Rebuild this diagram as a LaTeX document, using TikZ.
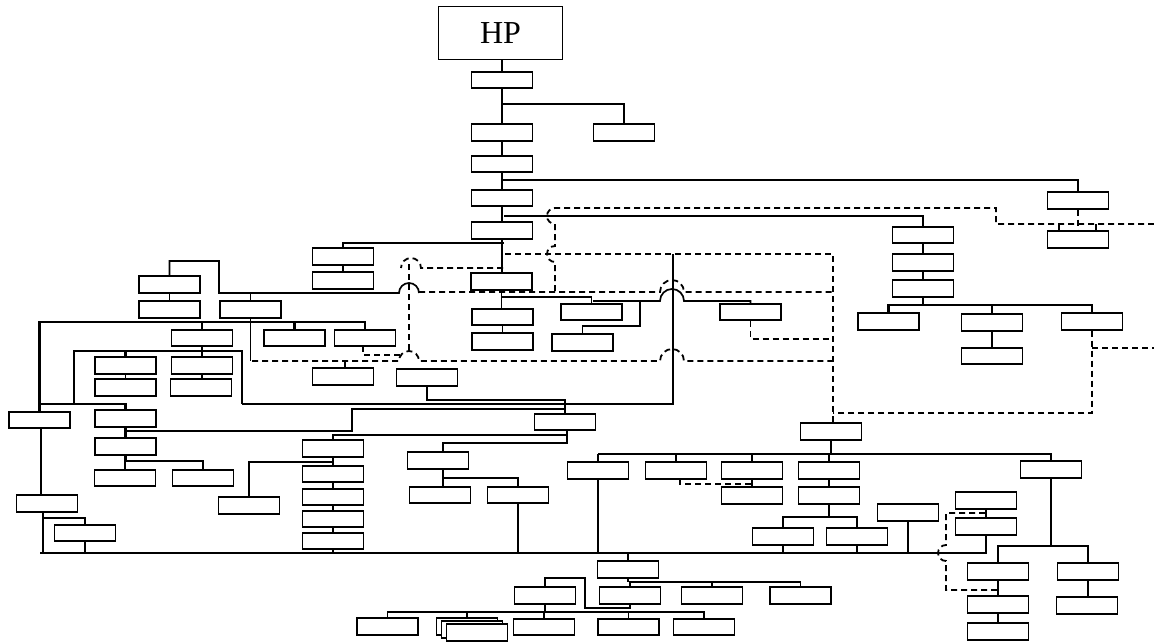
\documentclass[tikz,border=0pt]{standalone}
\usepackage{fontspec}
\setmainfont{Liberation Serif}
\usetikzlibrary{positioning}

\begin{document}
\begin{tikzpicture}[x=0.5pt,y=-0.5pt,
    bx/.style={rectangle,draw,fill=white,line width=0.95pt,minimum width=30.5pt,minimum height=8.2pt,inner sep=0pt},
    ln/.style={line width=0.85pt},
    tk/.style={line width=1.4pt},
    tn/.style={line width=0.55pt},
    dsh/.style={line width=0.9pt,dash pattern=on 3pt off 2pt}]
    \useasboundingbox (0,0) rectangle (1154,642);

    \node[draw,line width=0.95pt,minimum width=62pt,minimum height=26.5pt,font=\fontsize{16}{18}\selectfont] (hp) at (500.5,33) {HP};

    % boxes
    \foreach \n/\x/\y in {b1/502/80,b2/502/132.5,b2r/624/132.5,b3/502/164,b4/502/198,b5/502/230.5,
        r1/1078/200.5,r2/1078/239.5,g1/923/235,g2/923/262.5,g3/923/288.5,g4/888.5/321.5,g5/992/322.5,g6/1092/321.5,g7/992/356,
        m1/343/256.5,m2/343/280.5,c1/501.5/281.5,c2/502.5/317,c3/502.5/341.5,c4/591.5/312,c5/582.5/342.5,c6/750.5/312,
        l1/169.5/284.5,l2/169.5/309.5,l3/250.5/309.5,l4/202/338,l5/294.5/338,l6/365/338,
        l7/125.5/365.5,l8/125.5/387.5,l9/202/365.5,l10/201/387.5,l11/343/376.5,l12/427/377.5,
        l13/39.5/420,l14/125.5/418.5,l17/125.5/446.5,l18/125/478,l19/203/478,l15/47/503.5,l16/85/533,l20/249/505.5,
        k1/333/448.5,k2/333/474,k3/333/497,k4/333/519,k5/333/541,
        ba/565/422,n1/438/460.5,n2/440/495,n3/518/495,
        bb/831/431.5,p1/598/470.5,p2/676/470.5,p3/752/470.5,p4/829/470.5,p5/1051/469.5,
        p3b/752/495.5,p4b/829/495.5,p4c/783/536.5,p4d/857/536.5,
        q1/908/512.5,q2/986/500.5,q3/986/526.5,
        rr1/998/571.5,rr2/1088/571.5,rr3/998/604.5,rr4/1087/605.5,rr5/998/631.5,
        s1/628/569.5,s2/545/595.5,s3/630/595.5,s4/712/595.5,s5/800.5/595.5,
        t1/387.5/626.5,t2a/467/626.5,t2b/472/629.5,t2c/477/632.5,t3/544/627,t4/628.5/627,t5/704/627}{
        \node[bx] (\n) at (\x,\y) {};
    }

    % stacked pairs
    \draw[ln] (b1.north) -- (b1.north |- hp.south);
    \foreach \a/\b in {b1/b2,b2/b3,b3/b4,b4/b5,m1/m2,c1/c2,c2/c3,l1/l2,l7/l8,l9/l10,k1/k2,k2/k3,k3/k4,k4/k5,
        p3/p3b,p4/p4b,q2/q3,rr1/rr3,rr3/rr5,g5/g7,l4/l9}{
        \draw[ln] (\a.south) -- (\a.south |- \b.north);}
    \foreach \a/\b in {g1/g2,g2/g3,l14/l17,rr2/rr4,b5/c1}{
        \draw[tk] (\a.south) -- (\a.south |- \b.north);}

    % top branches
    \draw[tk] (502,104) -| (b2r.north);
    \draw[ln] (502,180) -| (r1.north);
    \draw[ln] (504,216) -| (g1.north);
    \draw[ln] (504,243) -| (m1.north);
    \draw[tk] (g3.south) -- (g3.south |- 0,305);
    \draw[tk] (g4.north) -- (g4.north |- 0,305) -| (g6.north);
    \draw[ln] (g5.north) -- (g5.north |- 0,305);
    \draw[ln] (1059,224) -- (1059,231);
    \draw[ln] (1096,224) -- (1096,231);
    \draw[dsh] (r1.south) -- (r1.south |- r2.north);

    % middle column
    \draw[ln] (502,297) -| (c4.north);
    \draw[ln] (593,301) -- (660,301) arc[start angle=180,end angle=360,radius=12] -- (c6.north |- 0,301) -- (c6.north);
    \draw[ln] (640,301) -- (640,326) -| (c5.north);
    \draw[dsh] (c6.south) -- (c6.south |- 0,339) -- (833,339);

    % left group
    \draw[ln] (l1.north) |- (219,261) -- (219,293) -- (399,293) arc[start angle=180,end angle=360,radius=10];
    \draw[ln] (l3.north) -- (l3.north |- 0,293);
    \draw[ln] (l3.south) -- (l3.south |- 0,361);
    \draw[tk] (l13.north) |- (l6.north |- 0,322) -- (l6.north);
    \draw[tk] (l4.north) -- (l4.north |- 0,322);
    \draw[tk] (l5.north) -- (l5.north |- 0,322);
    \draw[tk] (74,404) |- (242,351) -- (242,404);
    \draw[tk] (l7.north) -- (l7.north |- 0,351);
    \draw[ln] (242,404) -- (673,404) -- (673,254);
    \draw[tk] (l13.north |- 0,404) -| (l14.north);
    \draw[tk] (l14.south) -- (l14.south |- 0,431) -- (352,431) -- (352,409) -| (ba.north);
    \draw[tn] (l12.south) |- (ba.north |- 0,400) -- (ba.north);
    \draw[ln] (345,361) -- (l11.north -| 345,0);
    \draw[tk] (l17.south) |- (l19.north |- 0,461) -- (l19.north);
    \draw[tk] (l18.north) -- (l18.north |- 0,461);
    \draw[tn] (41,429) -- (41,495);
    \draw[tk] (43,512) -- (43,553);
    \draw[tk] (43,518) -| (l16.north);
    \draw[ln] (l16.south) -- (l16.south |- 0,553);

    % chain and centre
    \draw[tn] (567,430) -- (567,435) -| (k1.north);
    \draw[tk] (567,435) -- (567,443) -- (443,443) -- (443,452);
    \draw[ln] (443,469) -- (443,486);
    \draw[ln] (443,478) -| (n3.north);
    \draw[tk] (n3.south) -- (n3.south |- 0,553);
    \draw[tk] (k1.south |- 0,462) -| (l20.north);
    \draw[ln] (k5.south) -- (k5.south |- 0,553);

    % long bottom line
    \draw[ln] (40,553) -- (987,553);

    % right lower group
    \draw[ln] (bb.south) -- (bb.south |- 0,454);
    \draw[ln] (p1.north |- 0,454) -| (p5.north);
    \foreach \n in {p1,p2,p3,p4}{
        \draw[ln] (\n.north) -- (\n.north |- 0,454);}
    \draw[tk] (p1.south) -- (p1.south |- 0,553);
    \draw[dsh] (680,479) -- (680,484) -- (752,484);
    \draw[tk] (p4b.south) -- (p4b.south |- 0,517);
    \draw[ln] (p4c.north) |- (p4d.north |- 0,517) -- (p4d.north);
    \foreach \n in {p4c,p4d,q1,q3}{
        \draw[ln] (\n.south) -- (\n.south |- 0,553);}
    \draw[ln] (p5.south) -- (p5.south |- 0,546);
    \draw[tk] (rr1.north) |- (rr2.north |- 0,546) -- (rr2.north);
    \draw[dsh] (985,513) -| (946,545) arc[start angle=270,end angle=90,radius=8] -- (946,590) -- (998,590);

    % bottom rows
    \draw[ln] (s1.north) -- (s1.north |- 0,553);
    \draw[ln] (s1.south) -- (s1.south |- 0,582);
    \draw[ln] (s3.north) |- (s5.north |- 0,582) -- (s5.north);
    \draw[ln] (s4.north) -- (s4.north |- 0,582);
    \draw[tk] (s2.north) |- (585,578) -- (585,608) -| (s3.south);
    \draw[ln] (s2.south) -- (s2.south |- 0,612);
    \draw[ln] (t1.north) |- (t5.north |- 0,612) -- (t5.north);
    \foreach \n in {t2a,t3,t4}{
        \draw[ln] (\n.north) -- (\n.north |- 0,612);}

    % dashed links
    \draw[dsh] (1154,224) -- (996,224) -- (996,208) -- (555,208) arc[start angle=270,end angle=90,radius=8]
        -- (555,246) arc[start angle=270,end angle=90,radius=8] -- (555,292);
    \draw[dsh] (505,254) -- (833,254) -- (833,423);
    \draw[dsh] (503,268) -- (421,268) arc[start angle=0,end angle=-180,radius=10];
    \draw[dsh] (409,264) -- (409,350);
    \draw[dsh] (419,292) -- (660,292) arc[start angle=180,end angle=360,radius=12] -- (833,292);
    \draw[dsh] (252,361) -- (399,361) arc[start angle=180,end angle=360,radius=10] -- (660,361)
        arc[start angle=180,end angle=360,radius=12] -- (833,361);
    \draw[dsh] (363,346) -- (363,355) -- (400,355);
    \draw[dsh] (g6.south) |- (833,413);
    \draw[dsh] (g6.south |- 0,348) -- (1154,348);
\end{tikzpicture}
\end{document}
